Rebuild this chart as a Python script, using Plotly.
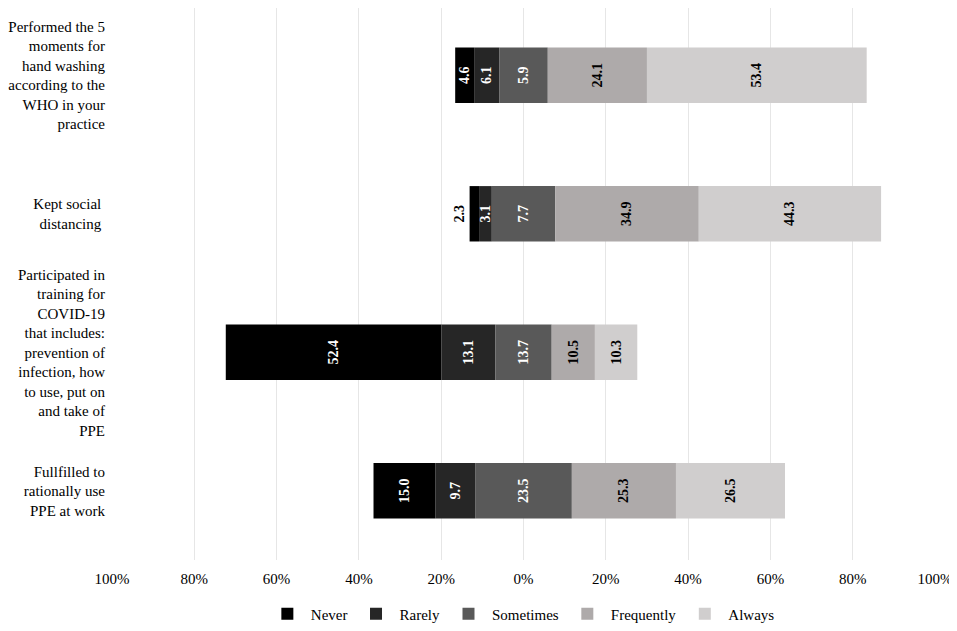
import numpy as np
import plotly.graph_objects as go

categories = [
    "Performed the 5<br>moments for<br>hand washing<br>according to the<br>WHO in your<br>practice",
    "Kept social&nbsp;<br>distancing&nbsp;",
    "Participated in<br>training for<br>COVID-19<br>that includes:<br>prevention of<br>infection, how<br>to use, put on<br>and take of<br>PPE",
    "Fullfilled to<br>rationally use<br>PPE at work",
]
never = [4.6, 2.3, 52.4, 15.0]
rarely = [6.1, 3.1, 13.1, 9.7]
sometimes = [11.8, 15.4, 13.7, 23.5]
sometimes_labels = ["5.9", "7.7", "13.7", "23.5"]
frequently = [24.1, 34.9, 10.5, 25.3]
always = [53.4, 44.3, 10.3, 26.5]

tick_vals = [-100, -80, -60, -40, -20, 0, 20, 40, 60, 80, 100]
tick_text = ["100%", "80%", "60%", "40%", "20%", "0%", "20%", "40%", "60%", "80%", "100%"]

FONT = "Liberation Serif, Times New Roman, serif"

n = np.array(never)
r = np.array(rarely)
s = np.array(sometimes)
f = np.array(frequently)
a = np.array(always)

# diverging: centre of "Sometimes" sits on 0
left = -(n + r + s / 2)
rarely_base = left + n
some_base = rarely_base + r
freq_base = some_base + s
always_base = freq_base + f

fig = go.Figure()


def add(name, x, base, text, color, txtcolor, textpos="inside"):
    fig.add_trace(go.Bar(
        y=categories, x=x, base=base, orientation="h", name=name,
        marker=dict(color=color, line=dict(width=0)),
        text=text, textposition=textpos, textangle=-90,
        insidetextanchor="middle", constraintext="none",
        insidetextfont=dict(family=FONT, size=14, color=txtcolor),
        outsidetextfont=dict(family=FONT, size=14, color="black"),
        cliponaxis=False, width=0.4,
    ))


# Never is drawn from its right edge leftwards so a small label can sit outside on the left
never_pos = ["outside" if v < 3 else "inside" for v in never]
add("Never", -n, rarely_base, ["<b>%.1f</b>" % v for v in never], "#000000", "white", never_pos)
add("Rarely", r, rarely_base, ["<b>%.1f</b>" % v for v in rarely], "#262626", "white")
add("Sometimes", s, some_base, ["<b>%s</b>" % t for t in sometimes_labels], "#595959", "white")
add("Frequently", f, freq_base, ["<b>%.1f</b>" % v for v in frequently], "#aeaaaa", "black")
add("Always", a, always_base, ["<b>%.1f</b>" % v for v in always], "#d0cece", "black")

# the page body adds an 8px offset, so the figure is a bit smaller than the window
fig.update_layout(
    width=949, height=623,
    margin=dict(l=102, r=22, t=0, b=70),
    barmode="overlay",
    plot_bgcolor="white", paper_bgcolor="white",
    font=dict(family=FONT, size=15, color="black"),
    showlegend=True,
    legend=dict(orientation="h", x=0.498, xanchor="center", y=-0.098, yanchor="middle",
                font=dict(family=FONT, size=15), traceorder="normal", itemwidth=37),
)
fig.update_xaxes(range=[-100, 100], tickvals=tick_vals, ticktext=tick_text,
                 showgrid=True, gridcolor="#e6e6e6", gridwidth=1, zeroline=False,
                 showline=False, ticks="", ticklabelstandoff=8,
                 tickfont=dict(family=FONT, size=15))
fig.update_yaxes(range=[3.5, -0.486], showgrid=False, zeroline=False, showline=False,
                 ticks="", ticklabelstandoff=6, tickfont=dict(family=FONT, size=15))

fig.write_html("out.html")
